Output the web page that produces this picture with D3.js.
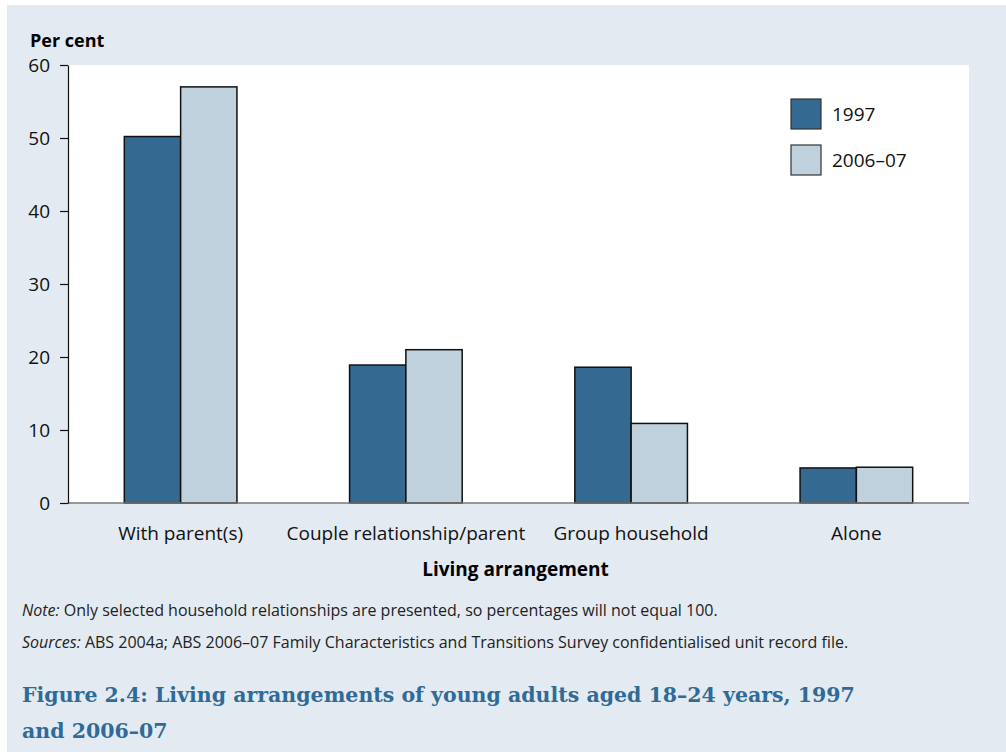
<!DOCTYPE html>
<html lang="en">
  <head>
    <meta charset="utf-8">
    <title>Living arrangements</title>
    <script type="text/javascript" src="https://cdn.jsdelivr.net/npm/d3@7"></script>
    <style>
    body{margin:0;background:#fff;}
    svg{display:block;}
    .axis text{
      font-family:"Open Sans",sans-serif;
      font-size:19px;
      fill:#111;
    }
    .note{font-family:"Open Sans",sans-serif;font-size:16px;fill:#222;}
    .title{font-family:"DejaVu Serif",serif;font-weight:bold;font-size:20.5px;fill:#2f6b96;}
    </style>
  </head>
  <body>
    <svg></svg>
    <script type="text/javascript">
      var categories=["With parent(s)","Couple relationship/parent","Group household","Alone"];
      var series=["1997","2006–07"];
      var values1997=[50.2,18.9,18.6,4.8];
      var values2006=[57.0,21.0,10.9,4.9];
      var yTicks=[0,10,20,30,40,50,60];
      var colors=["#346a91","#bfd1dd"];

      var width=1006,height=752;
      var plotLeft=68,plotRight=969,plotTop=65,plotBottom=503;

      var svg=d3.select("svg")
                .attr("width",width)
                .attr("height",height);

      svg.append("rect")
         .attr("x",7).attr("y",5)
         .attr("width",width-7).attr("height",height-5)
         .attr("fill","#e3eaf1");
      svg.append("rect")
         .attr("x",plotLeft).attr("y",plotTop)
         .attr("width",plotRight-plotLeft).attr("height",plotBottom-plotTop)
         .attr("fill","#fff");

      var xscale=d3.scaleBand()
                   .domain(categories)
                   .range([plotLeft,plotRight])
                   .paddingInner(0.5)
                   .paddingOuter(0.25);
      var inner=d3.scaleBand()
                  .domain(series)
                  .range([0,xscale.bandwidth()]);
      var yscale=d3.scaleLinear()
                   .domain([0,60])
                   .range([plotBottom,plotTop]);

      var data=categories.map(function(c,i){
        return {cat:c,vals:[values1997[i],values2006[i]]};
      });

      var groups=svg.selectAll("g.grp")
         .data(data)
         .enter()
         .append("g")
         .attr("class","grp")
         .attr("transform",function(d){return "translate("+xscale(d.cat)+",0)";});
      groups.selectAll("rect")
         .data(function(d){return d.vals.map(function(v,j){return {s:series[j],v:v,j:j};});})
         .enter()
         .append("rect")
         .attr("x",function(d){return inner(d.s);})
         .attr("y",function(d){return yscale(d.v);})
         .attr("width",inner.bandwidth())
         .attr("height",function(d){return yscale(0)-yscale(d.v);})
         .attr("fill",function(d){return colors[d.j];})
         .attr("stroke","#111")
         .attr("stroke-width",1.5);

      // x baseline
      svg.append("line")
         .attr("x1",plotLeft).attr("x2",plotRight)
         .attr("y1",plotBottom).attr("y2",plotBottom)
         .attr("stroke","#777").attr("stroke-width",1.5);

      var yAxis=d3.axisLeft(yscale)
                  .tickValues(yTicks)
                  .tickSize(8)
                  .tickPadding(10)
                  .tickSizeOuter(0);
      var yg=svg.append("g")
         .attr("class","axis")
         .attr("transform","translate("+plotLeft+",0)")
         .call(yAxis);
      yg.selectAll("line,path").attr("stroke","#111").attr("stroke-width",1.2);

      var xAxis=d3.axisBottom(xscale)
                  .tickSize(0)
                  .tickPadding(24);
      var xg=svg.append("g")
         .attr("class","axis")
         .attr("transform","translate(0,"+plotBottom+")")
         .call(xAxis);
      xg.select(".domain").remove();

      svg.append("text")
         .attr("x",30).attr("y",47)
         .attr("font-family","Open Sans, sans-serif")
         .attr("font-weight","bold")
         .attr("font-size",18)
         .text("Per cent");
      svg.append("text")
         .attr("x",(plotLeft+plotRight)/2-3).attr("y",576)
         .attr("text-anchor","middle")
         .attr("font-family","Open Sans, sans-serif")
         .attr("font-weight","bold")
         .attr("font-size",19)
         .text("Living arrangement");

      // legend
      var legend=svg.selectAll("g.leg")
         .data(series)
         .enter()
         .append("g")
         .attr("class","leg")
         .attr("transform",function(d,i){return "translate(791,"+(99+i*46)+")";});
      legend.append("rect")
         .attr("width",30).attr("height",30)
         .attr("fill",function(d,i){return colors[i];})
         .attr("stroke","#333").attr("stroke-width",1.2);
      legend.append("text")
         .attr("x",41).attr("y",22)
         .attr("font-family","Open Sans, sans-serif")
         .attr("font-size",19)
         .attr("fill","#111")
         .text(function(d){return d;});

      var note=svg.append("text").attr("class","note").attr("x",22).attr("y",616);
      note.append("tspan").attr("font-style","italic").text("Note:");
      note.append("tspan").text(" Only selected household relationships are presented, so percentages will not equal 100.");
      var src=svg.append("text").attr("class","note").attr("x",22).attr("y",648);
      src.append("tspan").attr("font-style","italic").text("Sources:");
      src.append("tspan").text(" ABS 2004a; ABS 2006–07 Family Characteristics and Transitions Survey confidentialised unit record file.");

      svg.append("text").attr("class","title").attr("x",22).attr("y",702)
         .text("Figure 2.4: Living arrangements of young adults aged 18–24 years, 1997");
      svg.append("text").attr("class","title").attr("x",22).attr("y",738)
         .text("and 2006–07");
    </script>
  </body>
</html>
